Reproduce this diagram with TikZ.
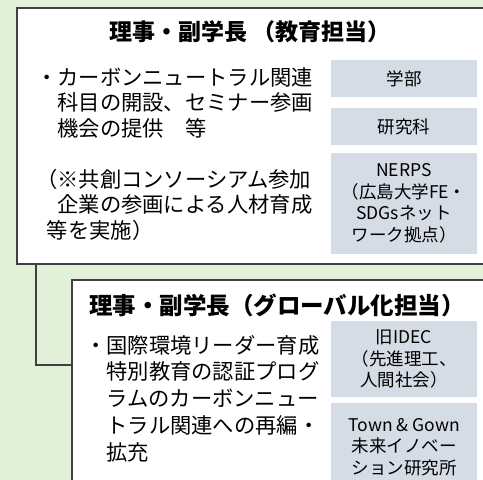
\documentclass[tikz,border=0pt]{standalone}
\usepackage{fontspec}
\setmainfont{Noto Sans CJK JP}
\usetikzlibrary{positioning}
\definecolor{bggreen}{HTML}{E2F0D9}
\definecolor{boxline}{HTML}{404040}
\definecolor{unitgray}{HTML}{D6DCE5}

\begin{document}
\begin{tikzpicture}[x=1pt,y=-1pt]
\tikzstyle{kader} = [draw=boxline, line width=2pt, fill=white, inner sep=0pt, anchor=north west]
\tikzstyle{titel} = [inner sep=0pt, font=\fontsize{23}{27}\selectfont\bfseries]
\tikzstyle{tekst} = [align=left, anchor=base west, inner sep=0pt, font=\fontsize{21.3}{25.5}\selectfont]
\tikzstyle{eenheid} = [fill=unitgray, minimum width=146pt, align=center, inner sep=0pt, font=\fontsize{17.5}{21.5}\selectfont]

\useasboundingbox (0,0) rectangle (483,480);
\fill [bggreen] (0,0) rectangle (483,480);
\clip (0,0) rectangle (483,480);

\node [kader, minimum width=480pt, minimum height=256pt] (edu) at (16,7) {};
\node [kader, minimum width=430pt, minimum height=220pt] (glob) at (71,279) {};

\coordinate (knik) at (36,365);
\draw [boxline, line width=2pt] (edu.south -| knik) -- (knik) -- (knik -| glob.west);

% education (text nodes sit on the baseline of their last line)
\node [titel] (edutitle) at (250,32) {理事・副学長 （教育担当）};

\node [tekst] (edutext) at (36,136) {・カーボンニュートラル関連\\\hspace*{1em}科目の開設、セミナー参画\\\hspace*{1em}機会の提供　等};
\node [tekst] (edunote) at (36,238) {（※共創コンソーシアム参加\\\hspace*{1em}企業の参画による人材育成\\\hspace*{0.5em}等を実施）};

\node [eenheid, minimum height=37pt] (gakubu) at (404,78.5) {学部};
\node [eenheid, minimum height=37pt] (kenkyuka) [below of=gakubu, node distance=48pt] {研究科};
\node [eenheid, minimum height=101pt] (nerps) [below of=kenkyuka, node distance=77pt] {NERPS\\（広島大学FE・\\SDGsネット\\ワーク拠点）};

% global
\node [titel, font=\fontsize{23.5}{27}\selectfont\bfseries] (globtitle) at (277,305) {理事・副学長（グローバル化担当）};

\node [tekst, font=\fontsize{21.3}{26.7}\selectfont] (globtext) at (85,460) {・国際環境リーダー育成\\\hspace*{1em}特別教育の認証プログ\\\hspace*{1em}ラムのカーボンニュー\\\hspace*{1em}トラル関連への再編・\\\hspace*{1em}拡充};

\node [eenheid, minimum height=76pt] (idec) at (404,359) {旧IDEC\\（先進理工、\\人間社会）};
\node [eenheid, minimum height=88pt] (towngown) [below of=idec, node distance=88pt] {Town \& Gown\\未来イノベー\\ション研究所};
\end{tikzpicture}
\end{document}
